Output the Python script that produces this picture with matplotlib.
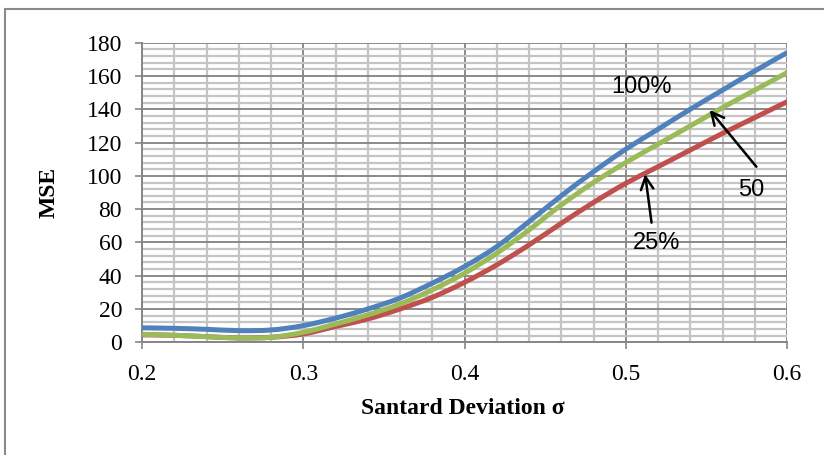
import matplotlib
matplotlib.use("Agg")
import matplotlib.pyplot as plt
from matplotlib.patches import Rectangle, PathPatch
from matplotlib.path import Path
from matplotlib.ticker import MultipleLocator

# Data
sigma = [0.20, 0.22, 0.24, 0.26, 0.28, 0.30, 0.32, 0.34, 0.36, 0.38, 0.40,
         0.42, 0.44, 0.46, 0.48, 0.50, 0.52, 0.54, 0.56, 0.58, 0.60]
mse_100 = [8.7, 8.4, 7.8, 7.0, 7.4, 10.0, 14.5, 20.0, 26.6, 35.5, 45.5,
           57.5, 72.5, 88.0, 102.5, 116.0, 128.0, 140.0, 151.5, 163.0, 174.0]
mse_25 = [4.5, 4.2, 3.4, 2.6, 3.0, 5.0, 9.5, 14.0, 20.0, 27.0, 36.0,
          46.5, 58.5, 71.5, 84.0, 95.5, 105.5, 115.5, 125.5, 135.0, 144.5]
mse_50 = [4.8, 4.2, 3.4, 2.6, 3.0, 6.0, 11.0, 16.5, 23.0, 31.5, 41.5,
          53.5, 67.5, 82.5, 96.0, 108.0, 119.0, 130.0, 141.0, 151.5, 162.0]

x_ticks = [0.2, 0.3, 0.4, 0.5, 0.6]
x_tick_labels = ["0.2", "0.3", "0.4", "0.5", "0.6"]
y_ticks = [0, 20, 40, 60, 80, 100, 120, 140, 160, 180]

W, H = 824, 455
fig = plt.figure(figsize=(W / 100, H / 100), dpi=100)
ax = fig.add_axes([142 / W, 1 - 342.3 / H, (787 - 142) / W, (342.3 - 42.7) / H])


def smooth_path(xs, ys):
    """Excel-style smoothed line: cubic Bezier segments through the data points."""
    n = len(xs)
    verts = [(xs[0], ys[0])]
    codes = [Path.MOVETO]
    for i in range(n - 1):
        x0, y0 = (xs[i - 1], ys[i - 1]) if i > 0 else (xs[i], ys[i])
        x1, y1 = xs[i], ys[i]
        x2, y2 = xs[i + 1], ys[i + 1]
        x3, y3 = (xs[i + 2], ys[i + 2]) if i + 2 < n else (x2, y2)
        c1 = (x1 + (x2 - x0) / 6, y1 + (y2 - y0) / 6)
        c2 = (x2 - (x3 - x1) / 6, y2 - (y3 - y1) / 6)
        verts += [c1, c2, (x2, y2)]
        codes += [Path.CURVE4] * 3
    return Path(verts, codes)


for ys, col in [(mse_100, "#4F81BD"), (mse_25, "#C0504D"), (mse_50, "#9BBB59")]:
    ax.add_patch(PathPatch(smooth_path(sigma, ys), facecolor="none",
                           edgecolor=col, lw=3.6, capstyle="butt", zorder=3))

ax.set_xlim(0.2, 0.6)
ax.set_ylim(0, 180)
ax.set_xticks(x_ticks)
ax.set_xticklabels(x_tick_labels)
ax.set_yticks(y_ticks)
ax.xaxis.set_minor_locator(MultipleLocator(0.02))
ax.yaxis.set_minor_locator(MultipleLocator(4))

ax.grid(which="minor", color="#c4c4c4", lw=1.6, zorder=0)
ax.grid(which="major", color="#8a8a8a", lw=1.4, zorder=1)
ax.set_axisbelow(True)

for s in ["top", "right"]:
    ax.spines[s].set_visible(False)
for s in ["left", "bottom"]:
    ax.spines[s].set_color("#868686")
    ax.spines[s].set_linewidth(1.4)

ax.tick_params(which="major", length=5, width=1.2, color="#868686",
               labelsize=17, labelcolor="black")
ax.tick_params(axis="y", pad=9.4)
ax.tick_params(axis="x", pad=10.5)
ax.tick_params(which="minor", length=0)
for lab in ax.get_xticklabels() + ax.get_yticklabels():
    lab.set_fontfamily("Liberation Serif")

ax.set_xlabel("Santard Deviation σ", fontfamily="Liberation Serif",
              fontweight="bold", fontsize=17)
ax.set_ylabel("MSE", fontfamily="Liberation Serif", fontweight="bold",
              fontsize=17)
ax.xaxis.set_label_coords(0.497, -0.1846)
ax.yaxis.set_label_coords(-0.127, 0.5)

# annotations
ax.text(0.51, 153.4, "100%", fontfamily="Liberation Sans", fontsize=17,
        ha="center", va="center", zorder=5)
ax.text(0.578, 91.6, "50", fontfamily="Liberation Sans", fontsize=17,
        ha="center", va="center", zorder=5)
ax.text(0.519, 59.5, "25%", fontfamily="Liberation Sans", fontsize=17,
        ha="center", va="center", zorder=5)
arrow = dict(arrowstyle="->,head_length=0.9,head_width=0.45", color="black",
             lw=1.8, shrinkA=0, shrinkB=0)
ax.annotate("", xy=(0.552, 139.6), xytext=(0.581, 105.5), arrowprops=arrow, zorder=5)
ax.annotate("", xy=(0.512, 101.0), xytext=(0.516, 71.9), arrowprops=arrow, zorder=5)

# outer chart border (only left and top edges visible in the crop)
fig.patches.append(Rectangle((5 / W, -0.1), 1.2, 1 - 9 / H + 0.1,
                             transform=fig.transFigure, fill=False,
                             edgecolor="#8a8a8a", lw=1.5))

fig.savefig("out.png", dpi=100)
